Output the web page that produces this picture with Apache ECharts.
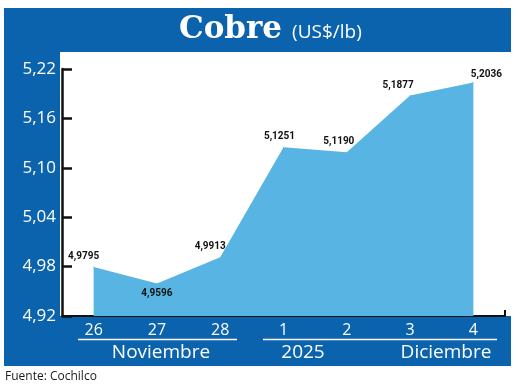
<!DOCTYPE html>
<html>
<head>
<meta charset="utf-8">
<script src="https://cdn.jsdelivr.net/npm/echarts@6/dist/echarts.min.js"></script>
<style>html,body{margin:0;padding:0;background:#fff;}#c{width:520px;height:388px;}</style>
</head>
<body>
<div id="c"></div>
<script>
// ---- data ----
var categories = ['26', '27', '28', '1', '2', '3', '4'];
var values = [4.9795, 4.9596, 4.9913, 5.1251, 5.1190, 5.1877, 5.2036];
var yMin = 4.92, yMax = 5.22, yStep = 0.06;
var groupLabels = ['Noviembre', '2025', 'Diciembre'];
var titleMain = 'Cobre';
var titleUnit = '(US$/lb)';
var sourceText = 'Fuente: Cochilco';

// ---- styles ----
var DARK = '#0b63ad';
var LIGHT = '#57b4e3';
var labelOffsets = [[-10, 0], [0, 0], [-10, 0], [-4, 0], [-8, 0], [-12, 0], [13, 2]];
var labelPositions = ['top', 'bottom', 'top', 'top', 'top', 'top', 'top'];

function fmt(v, d) { return v.toFixed(d).replace('.', ','); }

var seriesData = values.map(function (v, i) {
  return {
    value: v,
    label: { position: labelPositions[i], offset: labelOffsets[i] }
  };
});

var chart = echarts.init(document.getElementById('c'), null, { renderer: 'canvas' });
chart.setOption({
  animation: false,
  backgroundColor: '#fff',
  title: {
    text: '{a|' + titleMain + '}  {b|' + titleUnit + '}',
    left: 174, top: 9,
    textStyle: {
      rich: {
        a: { fontFamily: 'DejaVu Serif', fontWeight: 'bold', fontSize: 31, color: '#fff' },
        b: { fontFamily: 'Open Sans', fontWeight: 'normal', fontSize: 19, color: '#fff', padding: [6, 0, 0, 0] }
      }
    }
  },
  grid: { left: 62, right: 15, top: 69, bottom: 72 },
  xAxis: {
    type: 'category',
    data: categories,
    boundaryGap: true,
    axisLine: { show: true, lineStyle: { color: '#111', width: 2 } },
    axisTick: { show: false },
    axisLabel: { color: '#fff', fontFamily: 'Open Sans', fontSize: 16, margin: 6 },
    splitLine: { show: false }
  },
  yAxis: {
    type: 'value',
    min: yMin, max: yMax, interval: yStep,
    axisLine: { show: true, lineStyle: { color: '#111', width: 2.5 } },
    axisTick: { show: true, inside: true, length: 10, lineStyle: { color: '#111', width: 2.5 } },
    axisLabel: {
      color: '#fff', fontFamily: 'Open Sans', fontSize: 17, margin: 6,
      formatter: function (v) { return fmt(v, 2); }
    },
    splitLine: { show: false }
  },
  series: [{
    type: 'line',
    data: seriesData,
    symbol: 'circle',
    symbolSize: 1,
    showSymbol: true,
    lineStyle: { width: 0, color: LIGHT },
    itemStyle: { color: LIGHT },
    areaStyle: { color: LIGHT, opacity: 1, origin: 'start' },
    label: {
      show: true,
      color: '#111',
      fontFamily: 'Roboto, sans-serif',
      fontWeight: 'bold',
      fontSize: 10,
      distance: 5,
      formatter: function (p) { return fmt(p.value, 4); }
    },
    z: 1
  }],
  graphic: [
    { type: 'rect', z: -20, shape: { x: 4, y: 8, width: 507, height: 358 }, style: { fill: DARK } },
    { type: 'rect', z: -10, shape: { x: 60, y: 52, width: 451, height: 264 }, style: { fill: '#fff' } },
    { type: 'line', z: 10, shape: { x1: 505, y1: 316, x2: 505, y2: 310 }, style: { stroke: '#111', lineWidth: 2 } },
    { type: 'line', z: 10, shape: { x1: 78, y1: 339.5, x2: 237, y2: 339.5 }, style: { stroke: '#fff', lineWidth: 1.5 } },
    { type: 'line', z: 10, shape: { x1: 263, y1: 339.5, x2: 497, y2: 339.5 }, style: { stroke: '#fff', lineWidth: 1.5 } },
    { type: 'text', z: 10, x: 161, y: 353, style: { text: groupLabels[0], fill: '#fff', font: '19px "Open Sans"', textAlign: 'center', textVerticalAlign: 'middle' } },
    { type: 'text', z: 10, x: 303, y: 353, style: { text: groupLabels[1], fill: '#fff', font: '19px "Open Sans"', textAlign: 'center', textVerticalAlign: 'middle' } },
    { type: 'text', z: 10, x: 446, y: 353, style: { text: groupLabels[2], fill: '#fff', font: '19px "Open Sans"', textAlign: 'center', textVerticalAlign: 'middle' } },
    { type: 'text', z: 10, x: 5, y: 377, style: { text: sourceText, fill: '#1a1a1a', font: '12px "Open Sans"', textAlign: 'left', textVerticalAlign: 'middle' } }
  ]
});
</script>
</body>
</html>
